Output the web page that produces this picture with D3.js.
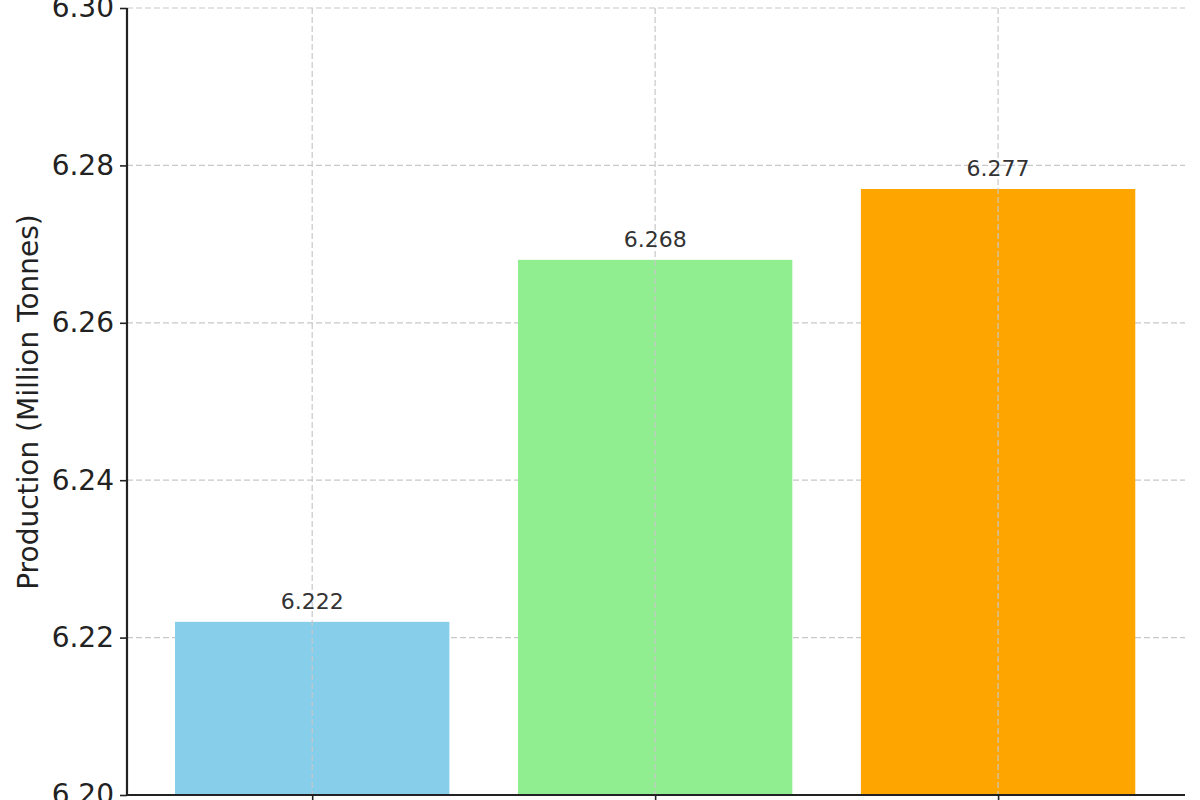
<!DOCTYPE html>
<html><head><meta charset="utf-8">
<script src="https://cdn.jsdelivr.net/npm/d3@7"></script>
<style>body{margin:0;background:#fff}svg{display:block;font-family:"DejaVu Sans",sans-serif}</style>
</head><body><svg id="c" width="1200" height="800"></svg>
<script>
// values; category names are cropped out of the reference
const categories = ["2021", "2022", "2023"];
const values = [6.222, 6.268, 6.277];
const colors = ["#87ceeb", "#90ee90", "#ffa500"];
const yTicks = [6.20, 6.22, 6.24, 6.26, 6.28, 6.30];

const svg = d3.select("#c");
const x = d3.scaleLinear().domain([-0.54, 2.545]).range([127, 1185]);
const y = d3.scaleLinear().domain([6.20, 6.30]).range([795, 8]);
const barW = x(0.8) - x(0);

// grid
svg.append("g").selectAll("line").data(yTicks).enter().append("line")
  .attr("x1", 127).attr("x2", 1185)
  .attr("y1", function(d){ return y(d); }).attr("y2", function(d){ return y(d); })
  .attr("stroke", "#c8c8c8").attr("stroke-dasharray", "6,3").attr("stroke-width", 1.2);

svg.append("g").selectAll("rect").data(values).enter().append("rect")
  .attr("x", function(d, i){ return x(i) - barW / 2; })
  .attr("width", barW)
  .attr("y", function(d){ return y(d); })
  .attr("height", function(d){ return 795 - y(d); })
  .attr("fill", function(d, i){ return colors[i]; });

svg.append("g").selectAll("line").data(categories).enter().append("line")
  .attr("x1", function(d, i){ return x(i); }).attr("x2", function(d, i){ return x(i); })
  .attr("y1", 8).attr("y2", 795)
  .attr("stroke", "#c8c8c8").attr("stroke-dasharray", "6,3").attr("stroke-width", 1.2);

svg.append("g").selectAll("text").data(values).enter().append("text")
  .attr("x", function(d, i){ return x(i); })
  .attr("y", function(d){ return y(d) - 13; })
  .attr("text-anchor", "middle").attr("font-size", 22).attr("fill", "#333")
  .text(function(d){ return d.toFixed(3); });

// axes
const yAxis = svg.append("g").attr("transform", "translate(127,0)")
  .call(d3.axisLeft(y).tickValues(yTicks).tickFormat(d3.format(".2f")).tickSize(7).tickPadding(6));
const xAxis = svg.append("g").attr("transform", "translate(0,795)")
  .call(d3.axisBottom(x).tickValues([0, 1, 2]).tickFormat(function(d){ return categories[d]; }).tickSize(7).tickPadding(6));
[yAxis, xAxis].forEach(function(a){
  a.select(".domain").attr("stroke", "#222").attr("stroke-width", 2.2);
  a.selectAll(".tick line").attr("stroke", "#222").attr("stroke-width", 1.6);
  a.selectAll("text").attr("font-size", 28).attr("fill", "#222").attr("font-family", "DejaVu Sans");
});
xAxis.select(".domain").attr("d", "M127,0H1185");
yAxis.select(".domain").attr("d", "M0,8V795");

svg.append("text").attr("transform", "translate(38,402) rotate(-90)")
  .attr("text-anchor", "middle").attr("font-size", 28).attr("fill", "#222")
  .text("Production (Million Tonnes)");
</script></body></html>
